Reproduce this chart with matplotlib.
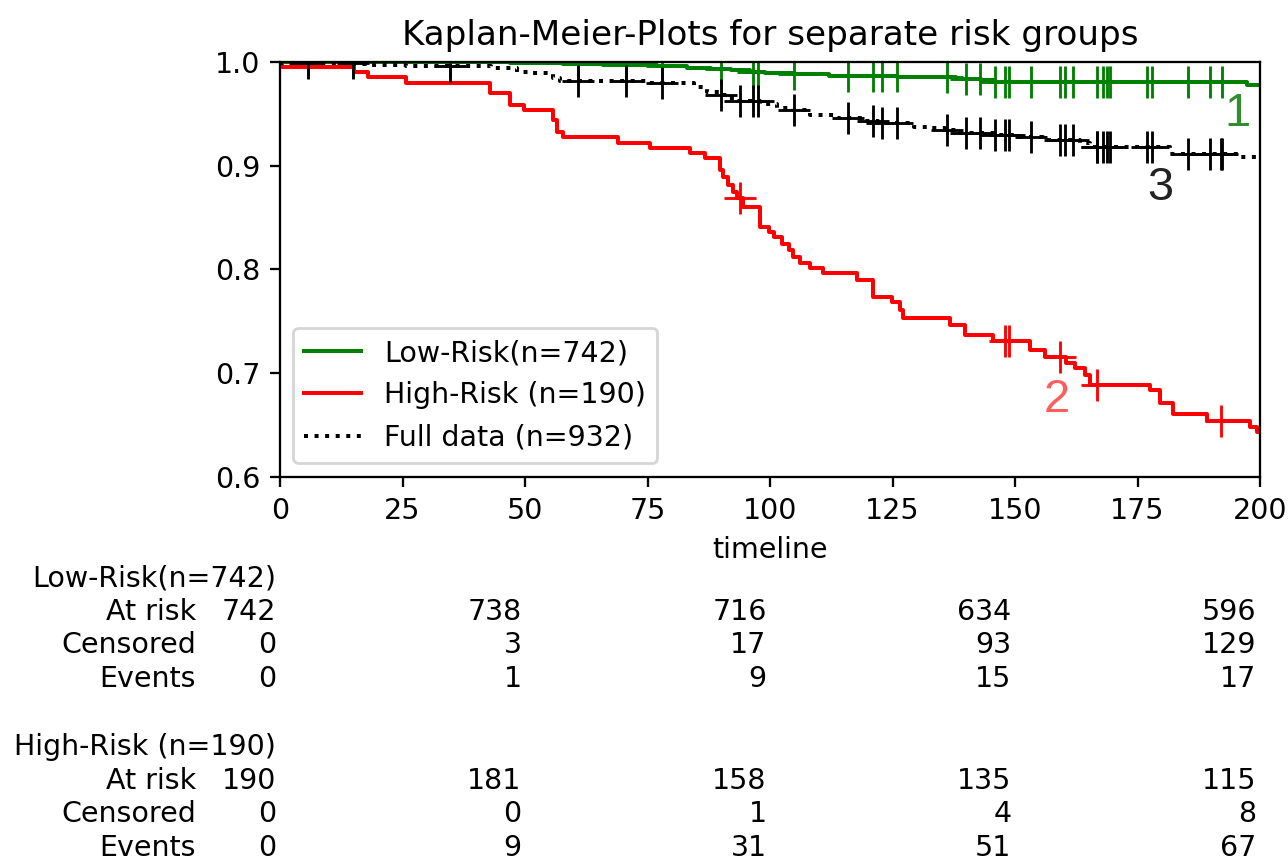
import numpy as np
import matplotlib
matplotlib.use("Agg")
import matplotlib.pyplot as plt
from matplotlib.transforms import blended_transform_factory, offset_copy

# survival curves (time, survival), step "post"
low_t = [0, 47, 57.8, 66, 77, 83, 88, 92, 96, 99, 104.7, 112, 126, 138, 143, 145.6, 197.3, 200]
low_s = [1.0, 0.9990, 0.9980, 0.9970, 0.9958, 0.9945, 0.9932, 0.9920, 0.9908, 0.9895,
         0.9880, 0.9866, 0.9852, 0.9838, 0.9822, 0.9804, 0.9780, 0.9780]

high_t = [0, 0.5, 15.0, 18.0, 25.8, 42.9, 46.9, 49.7, 55.8, 56.6, 57.8, 69.0, 75.5, 83.7,
          86.7, 89.8, 90.5, 91.5, 92.5, 93.2, 94.5, 98.0, 99.7, 100.8, 102.5, 103.8, 104.7,
          106.1, 108.2, 110.9, 117.7, 121.1, 124.8, 126.6, 127.2, 136.7, 139.8, 145.6, 153.1,
          156.1, 160.5, 162.2, 164.3, 165.3, 177.6, 179.6, 182.3, 189.1, 198.0, 199.3, 200]
high_s = [1.0, 0.995, 0.9900, 0.9855, 0.9800, 0.9698, 0.9586, 0.9537, 0.9440, 0.9330,
          0.9274, 0.9220, 0.9168, 0.9120, 0.9072, 0.8960, 0.8895, 0.8810, 0.8750, 0.8686,
          0.8600, 0.8410, 0.8365, 0.8310, 0.8250, 0.8190, 0.8124, 0.8060, 0.8014, 0.7963,
          0.7900, 0.7738, 0.7690, 0.7610, 0.7530, 0.7465, 0.7369, 0.7314, 0.7224, 0.7154,
          0.7096, 0.7048, 0.6983, 0.6887, 0.6839, 0.6710, 0.6607, 0.6543, 0.6485, 0.6437,
          0.6437]

full_t = [0, 0.5, 15.0, 18.0, 25.8, 43.0, 48.3, 51.6, 55.8, 57.1, 74.8, 84.4, 87.1, 89.8,
          91.5, 93.2, 98.0, 101.4, 104.7, 108.2, 113.6, 119.0, 122.0, 129.3, 132.7, 135.7,
          138.8, 145.6, 149.7, 155.8, 163.3, 165.3, 181.6, 195.9, 199.3, 200]
full_s = [1.0, 0.9990, 0.9980, 0.9970, 0.9960, 0.9939, 0.9907, 0.9890, 0.9843, 0.9820,
          0.9794, 0.9762, 0.9714, 0.9680, 0.9650, 0.9625, 0.9600, 0.9554, 0.9537, 0.9489,
          0.9457, 0.9435, 0.9415, 0.9376, 0.9360, 0.9345, 0.9319, 0.9296, 0.9274, 0.9248,
          0.9216, 0.9184, 0.9113, 0.9087, 0.9072, 0.9072]

# censoring times
low_cens = [5.8, 14.8, 34.7, 60.9, 70.7, 77.9, 90.1, 96.6, 97.6, 104.8, 116.0, 121.1, 122.8,
            125.9, 136.1, 139.9, 142.9, 145.9, 148.0, 148.8, 153.2, 159.2, 160.2, 161.9,
            166.7, 168.0, 168.8, 169.4, 176.9, 177.9, 185.4, 189.8, 192.2]
high_cens = [93.9, 148.0, 148.8, 159.2, 166.8, 192.0]
full_cens = sorted(set(low_cens + high_cens))

# at-risk table
table_times = [0, 50, 100, 150, 200]
low_label = "Low-Risk(n=742)"
high_label = "High-Risk (n=190)"
full_label = "Full data (n=932)"
low_at_risk = [742, 738, 716, 634, 596]
low_censored = [0, 3, 17, 93, 129]
low_events = [0, 1, 9, 15, 17]
high_at_risk = [190, 181, 158, 135, 115]
high_censored = [0, 0, 1, 4, 8]
high_events = [0, 9, 31, 51, 67]

W, H, DPI = 1288, 861, 205
fig = plt.figure(figsize=(W / DPI, H / DPI), dpi=DPI)
ax = fig.add_axes([280 / W, 1 - 477 / H, 980 / W, 415 / H])


def surv_at(t, s, times):
    t = np.asarray(t)
    s = np.asarray(s)
    idx = np.searchsorted(t, times, side="right") - 1
    return s[idx]


LW, MS, MEW = 1.4, 11.5, 1.0
ax.step(low_t, low_s, where="post", color="green", lw=LW, label=low_label)
ax.plot(low_cens, surv_at(low_t, low_s, low_cens), "+", color="green", ms=MS, mew=MEW)
ax.step(high_t, high_s, where="post", color="red", lw=LW, label=high_label)
ax.plot(high_cens, surv_at(high_t, high_s, high_cens), "+", color="red", ms=MS, mew=MEW)
ax.step(full_t, full_s, where="post", color="black", lw=LW, ls=":", label=full_label)
ax.plot(full_cens, surv_at(full_t, full_s, full_cens), "+", color="black", ms=MS, mew=MEW)

ax.set_xlim(0, 200)
ax.set_ylim(0.6, 1.0)
ax.set_xticks(np.arange(0, 201, 25))
ax.set_yticks([0.6, 0.7, 0.8, 0.9, 1.0])
ax.set_xlabel("timeline")
ax.set_title("Kaplan-Meier-Plots for separate risk groups", fontsize=12)
ax.legend(loc="lower left", bbox_to_anchor=(13 / 980, 14 / 415), borderaxespad=0)

# curve numbers
lbl_font = dict(family=["Liberation Sans", "DejaVu Sans"], fontsize=16.5, ha="center", va="center")
ax.text(195.3, 0.9500, "1", color="#2f8f2f", **lbl_font)
ax.text(158.6, 0.6742, "2", color="#ff5c5c", **lbl_font)
ax.text(179.6, 0.8786, "3", color="#222222", **lbl_font)

# at-risk counts table
num_tr = offset_copy(blended_transform_factory(ax.transData, fig.transFigure),
                     fig=fig, x=-1.2, y=0, units="points")


def fy(py):
    return 1 - py / H


def draw_group(label, rows, y0):
    fig.text(276 / W, fy(y0), label, ha="right", va="center")
    names = ["At risk", "Censored", "Events"]
    for k, (name, vals) in enumerate(zip(names, rows)):
        yy = fy(y0 + 33.7 * (k + 1))
        fig.text(196 / W, yy, name, ha="right", va="center")
        for t, v in zip(table_times, vals):
            fig.text(t, yy, str(v), ha="right", va="center", transform=num_tr)


draw_group(low_label, [low_at_risk, low_censored, low_events], 578)
draw_group(high_label, [high_at_risk, high_censored, high_events], 747)

fig.savefig("out.png", dpi=DPI)
